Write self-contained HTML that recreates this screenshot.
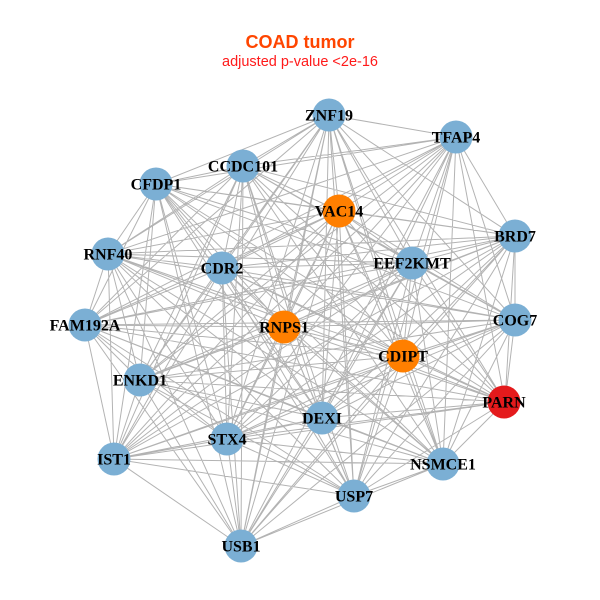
<!DOCTYPE html>
<html><head><meta charset="utf-8"><style>
html,body{margin:0;padding:0;background:#fff;}
svg{display:block;}
</style></head><body>
<svg width="600" height="600" viewBox="0 0 600 600" xmlns="http://www.w3.org/2000/svg">
<rect width="600" height="600" fill="#fff"/>
<text x="300" y="48" text-anchor="middle" font-family="Liberation Sans, sans-serif" font-weight="bold" font-size="18" fill="#FF4500">COAD tumor</text>
<text x="300" y="66" text-anchor="middle" font-family="Liberation Sans, sans-serif" font-size="14.5" fill="#FF1A1A">adjusted p-value &lt;2e-16</text>
<path fill="none" stroke="#b3b3b3" stroke-width="1" d="
M329 115L456 137M329 115L243 166M329 115L156 184M329 115L339 211M329 115L515 236M329 115L108 254M329 115L222 268M329 115L412 263M329 115L85 325M329 115L284 327M329 115L515 320M329 115L403 356M329 115L140 380M329 115L505 402M329 115L322 418M329 115L227 439M329 115L114 459M329 115L443 464M329 115L354 496M329 115L241 546
M456 137L243 166M456 137L156 184M456 137L339 211M456 137L515 236M456 137L108 254M456 137L222 268M456 137L412 263M456 137L85 325M456 137L284 327M456 137L515 320M456 137L403 356M456 137L140 380M456 137L505 402M456 137L322 418M456 137L227 439M456 137L114 459M456 137L443 464M456 137L354 496M456 137L241 546
M243 166L156 184M243 166L339 211M243 166L515 236M243 166L108 254M243 166L222 268M243 166L412 263M243 166L85 325M243 166L284 327M243 166L515 320M243 166L403 356M243 166L140 380M243 166L505 402M243 166L322 418M243 166L227 439M243 166L114 459M243 166L443 464M243 166L354 496M243 166L241 546
M156 184L339 211M156 184L515 236M156 184L108 254M156 184L222 268M156 184L412 263M156 184L85 325M156 184L284 327M156 184L515 320M156 184L403 356M156 184L140 380M156 184L505 402M156 184L322 418M156 184L227 439M156 184L114 459M156 184L443 464M156 184L354 496M156 184L241 546
M339 211L515 236M339 211L108 254M339 211L222 268M339 211L412 263M339 211L85 325M339 211L284 327M339 211L515 320M339 211L403 356M339 211L140 380M339 211L505 402M339 211L322 418M339 211L227 439M339 211L114 459M339 211L443 464M339 211L354 496M339 211L241 546
M515 236L108 254M515 236L222 268M515 236L412 263M515 236L85 325M515 236L284 327M515 236L515 320M515 236L403 356M515 236L140 380M515 236L505 402M515 236L322 418M515 236L227 439M515 236L114 459M515 236L443 464M515 236L354 496M515 236L241 546
M108 254L222 268M108 254L412 263M108 254L85 325M108 254L284 327M108 254L515 320M108 254L403 356M108 254L140 380M108 254L505 402M108 254L322 418M108 254L227 439M108 254L114 459M108 254L443 464M108 254L354 496M108 254L241 546
M222 268L412 263M222 268L85 325M222 268L284 327M222 268L515 320M222 268L403 356M222 268L140 380M222 268L505 402M222 268L322 418M222 268L227 439M222 268L114 459M222 268L443 464M222 268L354 496M222 268L241 546
M412 263L85 325M412 263L284 327M412 263L515 320M412 263L403 356M412 263L140 380M412 263L505 402M412 263L322 418M412 263L227 439M412 263L114 459M412 263L443 464M412 263L354 496M412 263L241 546
M85 325L284 327M85 325L515 320M85 325L403 356M85 325L140 380M85 325L505 402M85 325L322 418M85 325L227 439M85 325L114 459M85 325L443 464M85 325L354 496M85 325L241 546
M284 327L515 320M284 327L403 356M284 327L140 380M284 327L505 402M284 327L322 418M284 327L227 439M284 327L114 459M284 327L443 464M284 327L354 496M284 327L241 546
M515 320L403 356M515 320L140 380M515 320L505 402M515 320L322 418M515 320L227 439M515 320L114 459M515 320L443 464M515 320L354 496M515 320L241 546
M403 356L140 380M403 356L505 402M403 356L322 418M403 356L227 439M403 356L114 459M403 356L443 464M403 356L354 496M403 356L241 546
M140 380L505 402M140 380L322 418M140 380L227 439M140 380L114 459M140 380L443 464M140 380L354 496M140 380L241 546
M505 402L322 418M505 402L227 439M505 402L114 459M505 402L443 464M505 402L354 496
M322 418L227 439M322 418L114 459M322 418L443 464M322 418L354 496M322 418L241 546
M227 439L114 459M227 439L443 464M227 439L354 496M227 439L241 546
M114 459L443 464M114 459L354 496M114 459L241 546
M443 464L354 496M443 464L241 546
M354 496L241 546"/>
<g stroke="none">
<circle cx="329" cy="115" r="16.5" fill="#7BAFD4"/>
<circle cx="456" cy="137" r="16.5" fill="#7BAFD4"/>
<circle cx="243" cy="166" r="16.5" fill="#7BAFD4"/>
<circle cx="156" cy="184" r="16.5" fill="#7BAFD4"/>
<circle cx="339" cy="211" r="16.5" fill="#FF7F00"/>
<circle cx="515" cy="236" r="16.5" fill="#7BAFD4"/>
<circle cx="108" cy="254" r="16.5" fill="#7BAFD4"/>
<circle cx="222" cy="268" r="16.5" fill="#7BAFD4"/>
<circle cx="412" cy="263" r="16.5" fill="#7BAFD4"/>
<circle cx="85" cy="325" r="16.5" fill="#7BAFD4"/>
<circle cx="284" cy="327" r="16.5" fill="#FF7F00"/>
<circle cx="515" cy="320" r="16.5" fill="#7BAFD4"/>
<circle cx="403" cy="356" r="16.5" fill="#FF7F00"/>
<circle cx="140" cy="380" r="16.5" fill="#7BAFD4"/>
<circle cx="504" cy="402" r="16.5" fill="#E41A1C"/>
<circle cx="322" cy="418" r="16.5" fill="#7BAFD4"/>
<circle cx="227" cy="439" r="16.5" fill="#7BAFD4"/>
<circle cx="114" cy="459" r="16.5" fill="#7BAFD4"/>
<circle cx="443" cy="464" r="16.5" fill="#7BAFD4"/>
<circle cx="354" cy="496" r="16.5" fill="#7BAFD4"/>
<circle cx="241" cy="546" r="16.5" fill="#7BAFD4"/>
</g>
<g font-family="Liberation Serif, serif" font-weight="bold" font-size="16" fill="#000" text-anchor="middle">
<text x="329" y="120.5">ZNF19</text>
<text x="456" y="142.5">TFAP4</text>
<text x="243" y="171.5">CCDC101</text>
<text x="156" y="189.5">CFDP1</text>
<text x="339" y="216.5">VAC14</text>
<text x="515" y="241.5">BRD7</text>
<text x="108" y="259.5">RNF40</text>
<text x="222" y="273.5">CDR2</text>
<text x="412" y="268.5">EEF2KMT</text>
<text x="85" y="330.5">FAM192A</text>
<text x="284" y="332.5">RNPS1</text>
<text x="515" y="325.5">COG7</text>
<text x="403" y="361.5">CDIPT</text>
<text x="140" y="385.5">ENKD1</text>
<text x="504" y="407.5">PARN</text>
<text x="322" y="423.5">DEXI</text>
<text x="227" y="444.5">STX4</text>
<text x="114" y="464.5">IST1</text>
<text x="443" y="469.5">NSMCE1</text>
<text x="354" y="501.5">USP7</text>
<text x="241" y="551.5">USB1</text>
</g>
</svg>
</body></html>
